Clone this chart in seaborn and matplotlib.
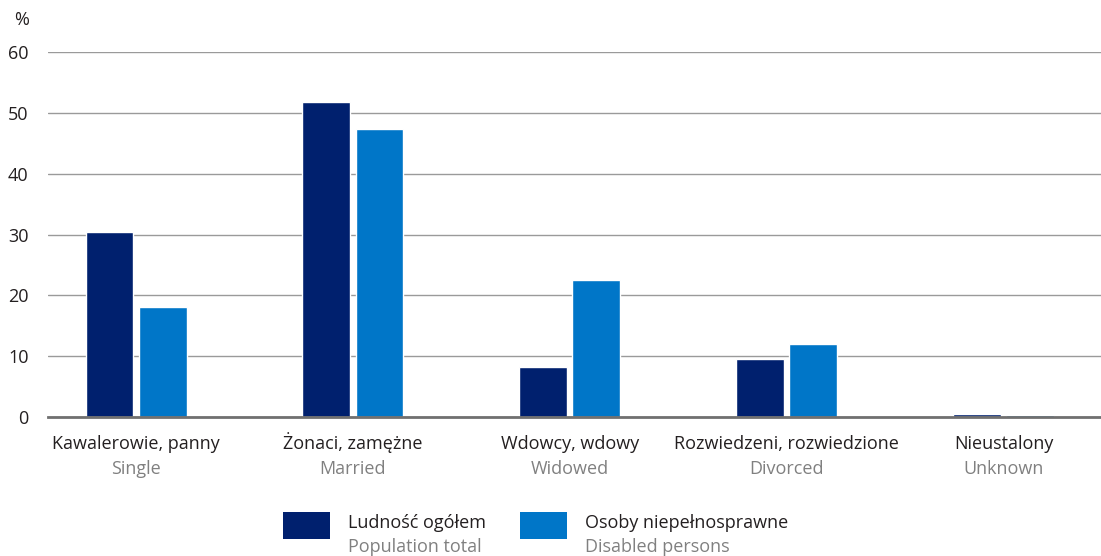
import matplotlib
matplotlib.use("Agg")
import matplotlib.pyplot as plt
from matplotlib.patches import Rectangle
import seaborn as sns
import pandas as pd

categories_pl = ["Kawalerowie, panny", "Żonaci, zamężne", "Wdowcy, wdowy",
                 "Rozwiedzeni, rozwiedzione", "Nieustalony"]
categories_en = ["Single", "Married", "Widowed", "Divorced", "Unknown"]
population_total = [30.4, 51.8, 8.2, 9.5, 0.5]
disabled_persons = [18.1, 47.3, 22.5, 12.0, 0.3]
series_pl = ["Ludność ogółem", "Osoby niepełnosprawne"]
series_en = ["Population total", "Disabled persons"]
y_ticks = [0, 10, 20, 30, 40, 50, 60]

DARK = "#00206E"
LIGHT = "#0076C8"
TEXT = "#231F20"
SUB = "#808080"

df = pd.DataFrame({
    "cat": categories_pl * 2,
    "value": population_total + disabled_persons,
    "series": [series_pl[0]] * 5 + [series_pl[1]] * 5,
})

sns.set_theme(style="white")
plt.rcParams["font.family"] = ["Open Sans", "DejaVu Sans"]

fig = plt.figure(figsize=(11.01, 5.56), dpi=100)
ax = fig.add_axes([48 / 1101, 1 - 417 / 556, 1 - 48 / 1101, (417 - 52) / 556])

sns.barplot(data=df, x="cat", y="value", hue="series", order=categories_pl,
            hue_order=series_pl, palette=[DARK, LIGHT], width=0.49, gap=0.1,
            saturation=1, ax=ax, legend=False)

ax.set_ylim(0, 60)
ax.set_xlim(-0.406, 4.449)
ax.set_yticks(y_ticks)
ax.yaxis.grid(True, color="#9A9A9A", linewidth=1.0)
ax.set_axisbelow(True)
for s in ["top", "right", "left"]:
    ax.spines[s].set_visible(False)
ax.spines["bottom"].set_color("#707070")
ax.spines["bottom"].set_linewidth(2.0)
ax.set_xlabel("")
ax.set_ylabel("")
ax.tick_params(axis="y", length=0, pad=14, labelsize=13, labelcolor=TEXT)
ax.tick_params(axis="x", length=0)
ax.set_xticks(range(len(categories_pl)))
ax.set_xticklabels([])

for i, (pl, en) in enumerate(zip(categories_pl, categories_en)):
    ax.annotate(pl, xy=(i, 0), xycoords=("data", "axes fraction"),
                xytext=(0, -23), textcoords="offset points",
                ha="center", va="baseline", fontsize=13, color=TEXT)
    ax.annotate(en, xy=(i, 0), xycoords=("data", "axes fraction"),
                xytext=(0, -41), textcoords="offset points",
                ha="center", va="baseline", fontsize=13, color=SUB)

fig.text(22 / 1101, 1 - 20 / 556, "%", ha="center", va="center",
         fontsize=13, color=TEXT)

# legend drawn as swatches with two-line bilingual labels
legend_items = [(283, DARK, 348), (520, LIGHT, 585)]
for (x0, col, tx), pl, en in zip(legend_items, series_pl, series_en):
    fig.add_artist(Rectangle((x0 / 1101, 1 - 539 / 556), 47 / 1101, 27 / 556,
                             transform=fig.transFigure, facecolor=col,
                             edgecolor="none"))
    fig.text(tx / 1101, 1 - 528 / 556, pl, ha="left", va="baseline",
             fontsize=13, color=TEXT)
    fig.text(tx / 1101, 1 - 552 / 556, en, ha="left", va="baseline",
             fontsize=13, color=SUB)

fig.savefig("out.png", dpi=100)
